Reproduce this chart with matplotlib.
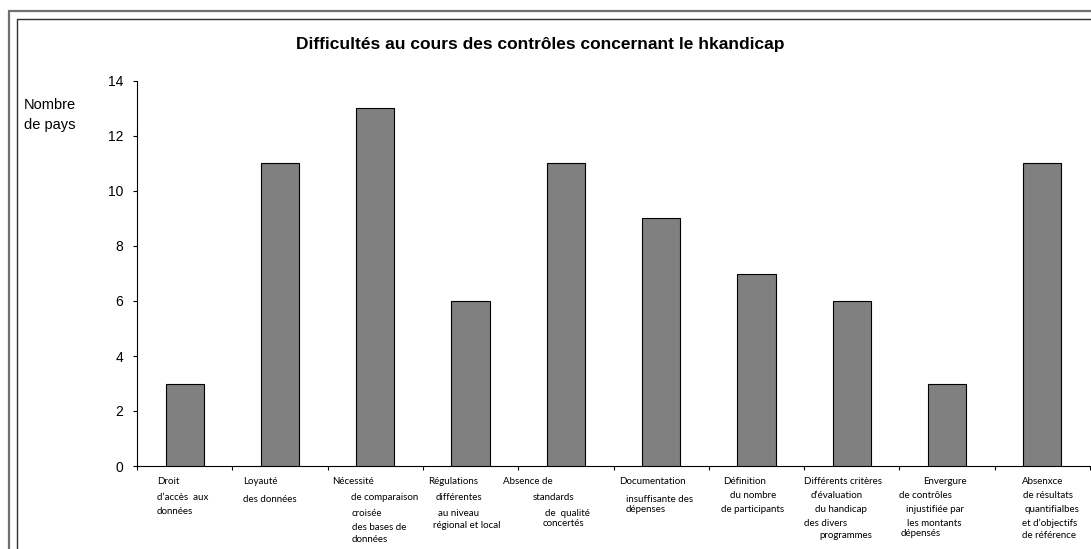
import matplotlib.pyplot as plt
from matplotlib.patches import Rectangle
import numpy as np

# données
categories = [
    ["Droit", "d\u2019accès  aux", "données"],
    ["Loyauté", "des données"],
    ["Nécessité", "de comparaison", "croisée", "des bases de", "données", "différentes"],
    ["Régulations", "différentes", "au niveau", "régional et local"],
    ["Absence de", "standards", "de  qualité", "concertés"],
    ["Documentation", "insuffisante des", "dépenses"],
    ["Définition", "du nombre", "de participants"],
    ["Différents critères", "d\u2019évaluation", "du handicap", "des divers", "programmes"],
    ["Envergure", "de contrôles", "injustifiée par", "les montants", "dépensés"],
    ["Absenxce", "de résultats", "quantifialbes", "et d\u2019objectifs", "de référence"],
]
nb_pays = [3, 11, 13, 6, 11, 9, 7, 6, 3, 11]
yticks = [0, 2, 4, 6, 8, 10, 12, 14]
titre = "Difficultés au cours des contrôles concernant le hkandicap"
ylabel = "Nombre\nde pays"

# décalages (pixels) de chaque ligne des étiquettes par rapport au bord gauche de la catégorie
decalages = [
    [(20, 16), (20, 32), (20, 46)],
    [(11, 16), (11, 33)],
    [(5, 16), (23, 31), (24, 47), (24, 61), (24, 74), (24, 87)],
    [(5, 16), (13, 31), (15, 47), (10, 60)],
    [(-15, 16), (14, 31), (27, 47), (24, 57)],
    [(6, 16), (12, 33), (12, 44)],
    [(14, 16), (21, 29), (12, 44)],
    [(0, 16), (7, 30), (11, 44), (0, 57), (15, 69)],
    [(24, 16), (0, 29), (7, 44), (8, 57), (1, 68)],
    [(27, 16), (28, 30), (30, 44), (27, 57), (27, 69)],
]

W, H = 1091, 549
fig = plt.figure(figsize=(W / 100, H / 100), dpi=100)
ax = fig.add_axes([137 / W, 1 - 466 / H, (1090 - 137) / W, (466 - 81) / H])

x = np.arange(len(nb_pays))
ax.bar(x, nb_pays, width=0.4, color='#808080', edgecolor='black', linewidth=0.8, zorder=3)

ax.set_xlim(-0.5, len(nb_pays) - 0.5)
ax.set_ylim(0, 14)
ax.set_yticks(yticks)
ax.set_yticklabels([str(t) for t in yticks], fontsize=10, family='Liberation Sans')
ax.tick_params(axis='y', direction='out', length=3, width=0.8, pad=7)
ax.set_xticks(np.arange(-0.5, len(nb_pays)))
ax.set_xticklabels([])
ax.tick_params(axis='x', direction='out', length=3, width=0.8)
for s in ['top', 'right']:
    ax.spines[s].set_visible(False)
ax.spines['left'].set_linewidth(0.8)
ax.spines['bottom'].set_linewidth(0.8)

# étiquettes de catégories, ligne par ligne
for i, (lignes, offs) in enumerate(zip(categories, decalages)):
    for txt, (dx, dy) in zip(lignes, offs):
        ax.annotate(txt, xy=(i - 0.5, 0), xycoords=ax.get_xaxis_transform(),
                    xytext=(dx, -dy), textcoords='offset pixels',
                    ha='left', va='center', fontsize=7, family='Lato',
                    annotation_clip=False)

fig.text(540 / W, 1 - 45 / H, titre, ha='center', va='center',
         fontsize=12.5, fontweight='bold', family='Liberation Sans')
fig.text(50 / W, 1 - 115 / H, ylabel, ha='center', va='center',
         fontsize=10.5, family='Liberation Sans', linespacing=1.5)

# doubles cadres
fig.patches.append(Rectangle((8.5 / W, -0.2), 2, 1 - 11.5 / H + 0.2, transform=fig.transFigure,
                             fill=False, edgecolor='#707070', linewidth=1.6))
fig.patches.append(Rectangle((16.5 / W, -0.2), 2, 1 - 19 / H + 0.2, transform=fig.transFigure,
                             fill=False, edgecolor='#303030', linewidth=1.0))

fig.savefig('out.png', dpi=100)
